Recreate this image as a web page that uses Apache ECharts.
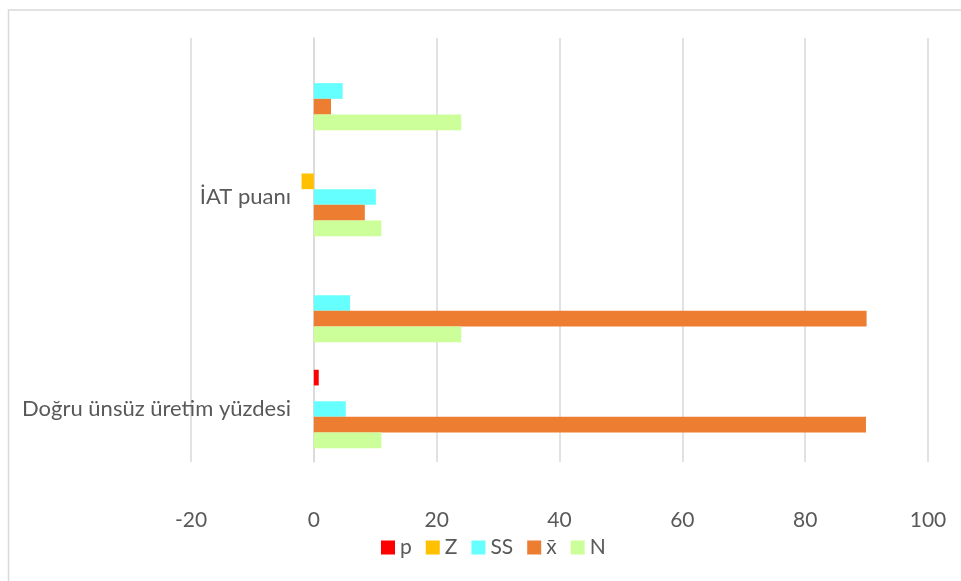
<!DOCTYPE html>
<html lang="tr">
<head>
<meta charset="UTF-8">
<title>echarts</title>
<script src="https://cdn.jsdelivr.net/npm/echarts@6/dist/echarts.min.js"></script>
<style>
  html, body { margin: 0; padding: 0; background: #fff; }
  #main { width: 961px; height: 581px; }
</style>
</head>
<body>
<div id="main"></div>
<script type="text/javascript">
    // kategoriler (alttan üste)
    var categories = ['Doğru ünsüz üretim yüzdesi', '', 'İAT puanı', ''];
    var xTicks = [-20, 0, 20, 40, 60, 80, 100];

    // seri değerleri (kategori sırasıyla)
    var valP  = [0.8, 0, 0, 0];
    var valZ  = [0, 0, -2.0, 0];
    var valSS = [5.2, 5.9, 10.1, 4.7];
    var valX  = [89.9, 90.0, 8.3, 2.8];
    var valN  = [11, 24, 11, 24];

    var names = ['p', 'Z', 'SS', 'x\u0304', 'N'];
    var colors = ['#FF0000', '#FFC000', '#66FFFF', '#ED7D31', '#CCFF99'];
    var values = [valP, valZ, valSS, valX, valN];

    var FONT = 'Lato';

    var series = [];
    for (var i = 0; i < names.length; i++) {
        series.push({
            name: names[i],
            type: 'bar',
            data: values[i],
            itemStyle: { color: colors[i] },
            barGap: '0%',
            barCategoryGap: '26%'
        });
    }

    var myChart = echarts.init(document.getElementById('main'));
    var option = {
        animation: false,
        backgroundColor: '#fff',
        textStyle: { fontFamily: FONT },
        grid: { left: 191, right: 33, top: 38, bottom: 119, containLabel: false, outerBoundsMode: 'none' },
        legend: {
            data: names,
            bottom: 18,
            left: 376,
            itemWidth: 14,
            itemHeight: 14,
            itemGap: 14,
            icon: 'rect',
            textStyle: { fontFamily: FONT, fontSize: 21, color: '#595959' }
        },
        xAxis: {
            type: 'value',
            min: xTicks[0],
            max: xTicks[xTicks.length - 1],
            interval: 20,
            axisLine: { show: false },
            axisTick: { show: false },
            axisLabel: { fontSize: 21, color: '#595959', margin: 48, fontFamily: FONT },
            splitLine: { lineStyle: { color: '#d9d9d9', width: 1.5 } }
        },
        yAxis: {
            type: 'category',
            data: categories,
            axisLine: { onZero: true, lineStyle: { color: '#d9d9d9', width: 1.5 } },
            axisTick: { show: false },
            // etiketler sıfır çizgisinin solunda
            axisLabel: { fontSize: 22, color: '#595959', margin: -100, interval: 0, fontFamily: FONT }
        },
        // grafik alanı çerçevesi (sadece üst ve sol kenar görünüyor)
        graphic: [{
            type: 'polyline',
            shape: { points: [[8.5, 581], [8.5, 10], [961, 10]] },
            style: { fill: 'none', stroke: '#d9d9d9', lineWidth: 1.5 },
            silent: true
        }],
        series: series
    };
    myChart.setOption(option);
</script>
</body>
</html>
